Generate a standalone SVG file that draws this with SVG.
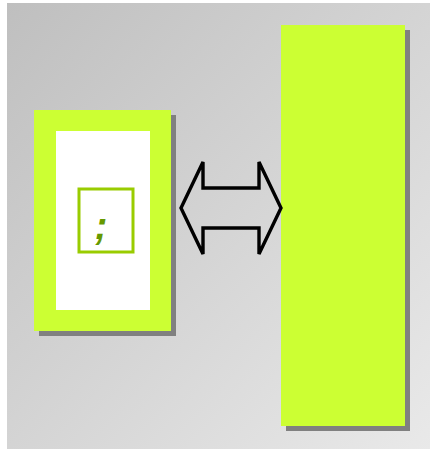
<svg xmlns="http://www.w3.org/2000/svg" width="431" height="450" viewBox="0 0 431 450">
<style>
.fill{fill:#ccff33}
.shadow{fill:#808080}
.conn{fill:none;stroke:#000;stroke-width:3.4;stroke-linejoin:miter}
.lbl{font-family:"Liberation Sans",Arial,sans-serif;font-weight:bold;font-style:italic;font-size:38px;fill:#669900}
</style>
<defs>
<linearGradient id="bg" x1="0" y1="0" x2="1" y2="1">
<stop offset="0" stop-color="#bfbfbf"/>
<stop offset="1" stop-color="#e9e9e9"/>
</linearGradient>
</defs>
<rect x="7" y="3" width="423" height="446" fill="url(#bg)"/>
<g id="node-left">
<rect class="shadow" x="39" y="115" width="137" height="221"/>
<rect class="fill" x="34" y="110" width="137" height="221"/>
<rect x="56" y="131" width="94" height="179" fill="#fff"/>
<rect x="79" y="189" width="54" height="63" fill="#fff" stroke="#99cc00" stroke-width="3"/>
<text class="lbl" x="101" y="239" text-anchor="middle">;</text>
</g>
<g id="node-right">
<rect class="shadow" x="286" y="30" width="124" height="401"/>
<rect class="fill" x="281" y="25" width="124" height="401"/>
</g>
<g id="connectors">
<path class="conn" d="M181,208 L203,162 L203,188 L259,188 L259,162 L281,208 L259,254 L259,228 L203,228 L203,254 Z"/>
</g>
</svg>
